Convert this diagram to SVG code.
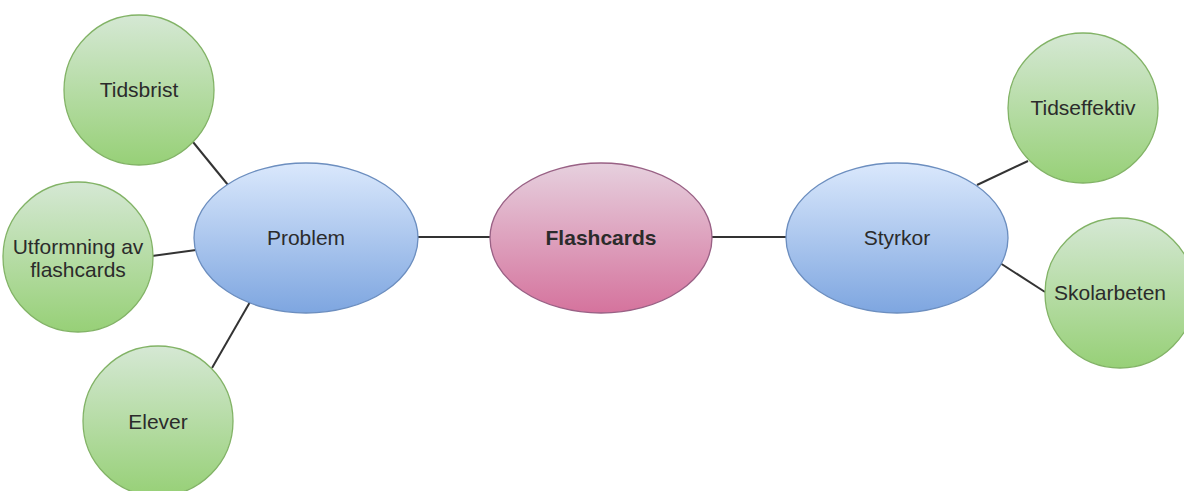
<svg xmlns="http://www.w3.org/2000/svg" width="1184" height="491" viewBox="0 0 1184 491">
<defs>
<linearGradient id="gGreen" x1="0" y1="0" x2="0" y2="1"><stop offset="0" stop-color="#d5e8d4"/><stop offset="1" stop-color="#97d077"/></linearGradient>
<linearGradient id="gBlue" x1="0" y1="0" x2="0" y2="1"><stop offset="0" stop-color="#dae8fc"/><stop offset="1" stop-color="#7ea6e0"/></linearGradient>
<linearGradient id="gPink" x1="0" y1="0" x2="0" y2="1"><stop offset="0" stop-color="#e6d0de"/><stop offset="1" stop-color="#d5739d"/></linearGradient>
<style>
.green{fill:url(#gGreen);stroke:#82b366;stroke-width:1.3}
.blue{fill:url(#gBlue);stroke:#6c8ebf;stroke-width:1.3}
.pink{fill:url(#gPink);stroke:#996185;stroke-width:1.3}
.lbl{font-family:"Liberation Sans",Arial,sans-serif;font-size:21px;fill:#2b2b2b;text-anchor:middle}
.bold{font-weight:bold}
.edge{stroke:#333;stroke-width:2;fill:none}
</style>
</defs>
<rect width="1184" height="491" fill="#ffffff"/>
<g id="connectors">
<line class="edge" x1="193" y1="142" x2="228" y2="185"/>
<line class="edge" x1="152" y1="256" x2="196" y2="250"/>
<line class="edge" x1="212" y1="368" x2="250" y2="302"/>
<line class="edge" x1="418" y1="237" x2="490" y2="237"/>
<line class="edge" x1="712" y1="237" x2="786" y2="237"/>
<line class="edge" x1="977" y1="185" x2="1028" y2="161"/>
<line class="edge" x1="1000" y1="263" x2="1045" y2="292"/>
</g>
<g id="tidsbrist"><circle class="green" cx="139" cy="90" r="75"/><text class="lbl" x="139" y="97">Tidsbrist</text></g>
<g id="utformning"><circle class="green" cx="78" cy="257" r="75"/><text class="lbl" x="78" y="254">Utformning av</text><text class="lbl" x="78" y="277">flashcards</text></g>
<g id="elever"><circle class="green" cx="158" cy="421" r="75"/><text class="lbl" x="158" y="429">Elever</text></g>
<g id="problem"><ellipse class="blue" cx="306" cy="238" rx="112" ry="75"/><text class="lbl" x="306" y="245">Problem</text></g>
<g id="flashcards"><ellipse class="pink" cx="601" cy="238" rx="111" ry="75"/><text class="lbl bold" x="601" y="245">Flashcards</text></g>
<g id="styrkor"><ellipse class="blue" cx="897" cy="238" rx="111" ry="75"/><text class="lbl" x="897" y="245">Styrkor</text></g>
<g id="tidseffektiv"><circle class="green" cx="1083" cy="108" r="75"/><text class="lbl" x="1083" y="115">Tidseffektiv</text></g>
<g id="skolarbeten"><circle class="green" cx="1120" cy="293" r="75"/><text class="lbl" x="1110" y="300">Skolarbeten</text></g>
</svg>
